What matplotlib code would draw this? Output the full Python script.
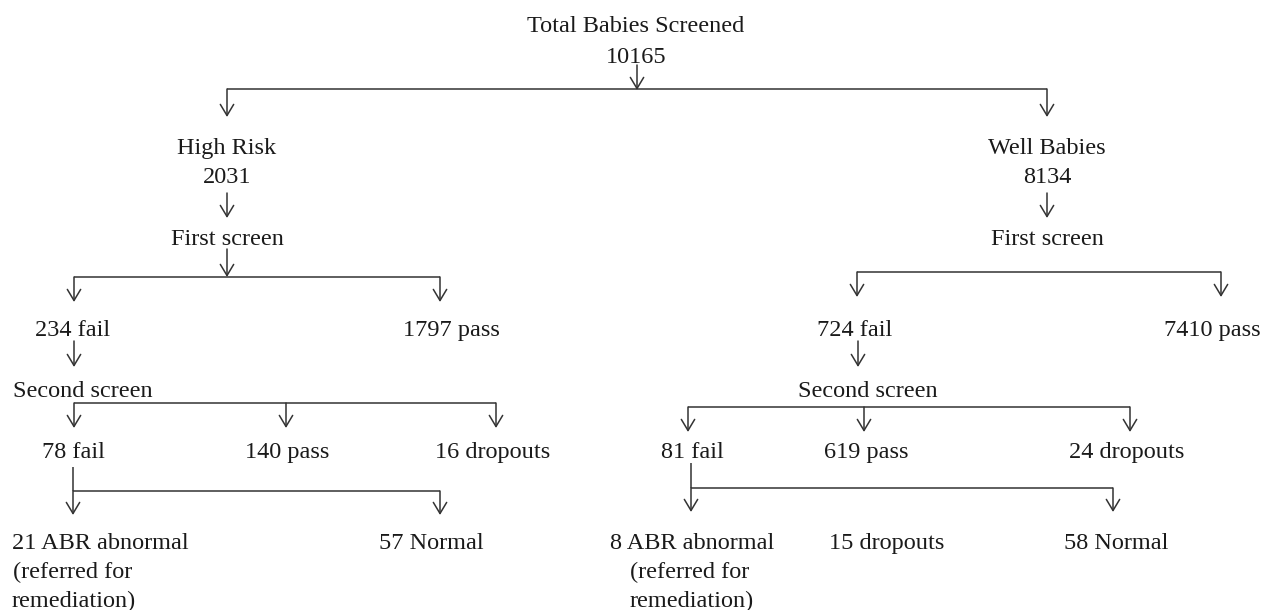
import matplotlib.pyplot as plt

# Data: counts in the screening flow
total = 10165
groups = ['High Risk', 'Well Babies']
group_n = [2031, 8134]
first_fail = [234, 724]
first_pass = [1797, 7410]
second_fail = [78, 81]
second_pass = [140, 619]
second_drop = [16, 24]
abr_abnormal = [21, 8]
third_drop = [None, 15]
normal = [57, 58]

# Layout (pixel coordinates, y downwards)
W, H = 1263, 610
cx = [227, 1047]                    # group columns
first_x = [(74, 440), (857, 1221)]  # fail / pass branches
first_y = [277, 272]
pass_lbl_x = [451, 1212]
fail_lbl_x = [73, 855]
fail_arrow_x = [74, 858]
second_x = [(74, 286, 496), (688, 864, 1130)]
second_y = [403, 407]
second_lbl_x = [(73, 287, 493), (692, 866, 1127)]
third_x = [(73, 440), (691, 1113)]
third_y = [491, 488]
third_top = [467, 463]

LC = '#333333'
TC = '#1a1a1a'
FS = 17.5
plt.rcParams['font.family'] = ['Liberation Serif', 'DejaVu Serif']

fig = plt.figure(figsize=(W / 100, H / 100), dpi=100)
ax = fig.add_axes([0, 0, 1, 1])
ax.set_xlim(0, W)
ax.set_ylim(H, 0)
ax.axis('off')


def txt(x, y, s, ha='center'):
    # y is the baseline
    ax.text(x, y, s, ha=ha, va='baseline', fontsize=FS, color=TC)


def line(x0, y0, x1, y1):
    ax.plot([x0, x1], [y0, y1], color=LC, lw=1.1, solid_capstyle='butt')


def arrow(x, y0, y1):
    ax.annotate('', xy=(x, y1), xytext=(x, y0),
                arrowprops=dict(arrowstyle='->,head_length=0.4,head_width=0.24',
                                color=LC, lw=1.1, shrinkA=0, shrinkB=0,
                                mutation_scale=20))


# top
txt(636, 32, 'Total Babies Screened')
txt(636, 63, str(total))
arrow(637, 65, 90)
line(cx[0], 89, cx[1], 89)

for i in range(2):
    c = cx[i]
    arrow(c, 89, 117)
    txt(c, 154, groups[i])
    txt(c, 183, str(group_n[i]))
    arrow(c, 193, 218)
    txt(c, 245, 'First screen')

    fy = first_y[i]
    fl, fp = first_x[i]
    line(fl, fy, fp, fy)
    arrow(fl, fy, fy + 25)
    arrow(fp, fy, fy + 25)
    txt(fail_lbl_x[i], 336, f'{first_fail[i]} fail')
    txt(pass_lbl_x[i], 336, f'{first_pass[i]} pass')
    arrow(fail_arrow_x[i], 341, 367)

    sy = second_y[i]
    s0, s1, s2 = second_x[i]
    line(s0, sy, s2, sy)
    for sx in second_x[i]:
        arrow(sx, sy, sy + 25)
    l0, l1, l2 = second_lbl_x[i]
    txt(l0, 458, f'{second_fail[i]} fail')
    txt(l1, 458, f'{second_pass[i]} pass')
    txt(l2, 458, f'{second_drop[i]} dropouts')

    ty = third_y[i]
    t0, t1 = third_x[i]
    line(t0, third_top[i], t0, ty)
    line(t0, ty, t1, ty)
    arrow(t0, ty, ty + 24)
    arrow(t1, ty, ty + 24)

# first screen arrow only on the high risk side
arrow(cx[0], 249, 277)

txt(13, 397, 'Second screen', ha='left')
txt(868, 397, 'Second screen')

# left bottom labels
txt(12, 549, f'{abr_abnormal[0]} ABR abnormal', ha='left')
txt(13, 578, '(referred for', ha='left')
txt(12, 607, 'remediation)', ha='left')
txt(431, 549, f'{normal[0]} Normal')

# right bottom labels
txt(692, 549, f'{abr_abnormal[1]} ABR abnormal')
txt(690, 578, '(referred for')
txt(692, 607, 'remediation)')
txt(887, 549, f'{third_drop[1]} dropouts')
txt(1116, 549, f'{normal[1]} Normal')

fig.savefig('out.png', dpi=100)
